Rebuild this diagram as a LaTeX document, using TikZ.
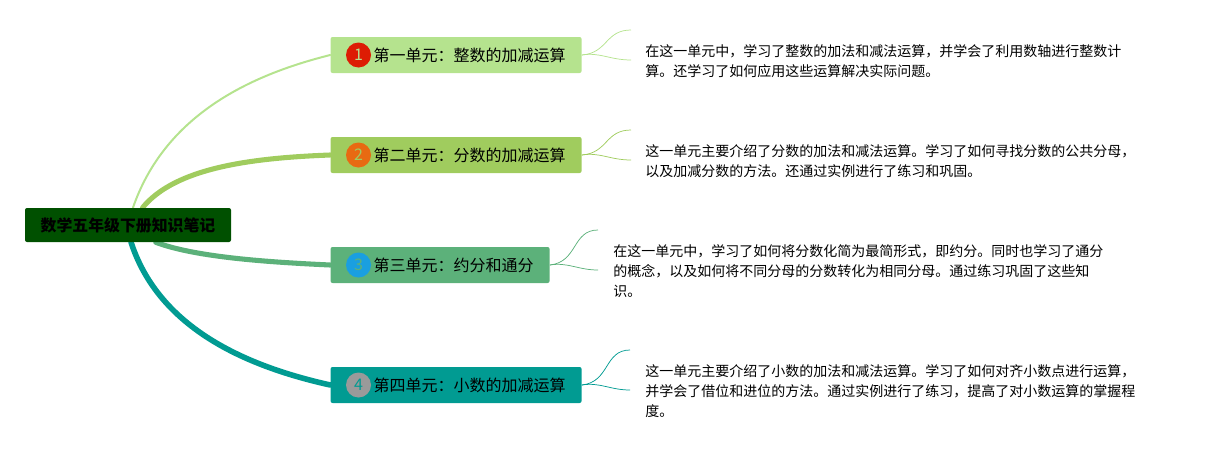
\documentclass[tikz,border=0pt]{standalone}
\usepackage{fontspec}
\usetikzlibrary{backgrounds}
\setmainfont{Noto Sans CJK SC}
\definecolor{rootgreen}{HTML}{005000}
\definecolor{unitA}{HTML}{B5E38E}
\definecolor{unitB}{HTML}{A0CC5E}
\definecolor{unitC}{HTML}{5CB17A}
\definecolor{unitD}{HTML}{019B92}
\definecolor{badgeA}{HTML}{DD1C04}
\definecolor{badgeB}{HTML}{E86A12}
\definecolor{badgeC}{HTML}{1A9FE0}
\definecolor{badgeD}{HTML}{9A9A9A}
\tikzset{
  rootbox/.style={fill=rootgreen,rounded corners=1.5pt,minimum width=154.5pt,minimum height=25.5pt,inner sep=0pt,font=\fontsize{11.9}{15}\selectfont\bfseries},
  unitbox/.style={anchor=west,rounded corners=1.5pt,minimum height=27pt,inner xsep=12pt,inner ysep=0pt,font=\fontsize{12}{15}\selectfont},
  badge/.style={circle,minimum size=18.75pt,inner sep=0pt,font=\fontsize{12}{15}\selectfont},
  notetext/.style={anchor=west,align=left,inner sep=0pt,font=\fontsize{10.5}{15}\selectfont},
  leaf/.style={line width=0.55pt},
  branch/.style={line cap=round}
}
\begin{document}
\begin{tikzpicture}[x=0.75pt,y=-0.75pt]
\useasboundingbox (0,0) rectangle (1205,450);

\node[rootbox] (root) at (128,225) {数学五年级下册知识笔记};

\node[unitbox,fill=unitA] (unit1) at (330.3,55) {\hspace*{20.25pt}第一单元：整数的加减运算};
\node[unitbox,fill=unitB] (unit2) at (330.3,155) {\hspace*{20.25pt}第二单元：分数的加减运算};
\node[unitbox,fill=unitC] (unit3) at (330.3,265) {\hspace*{20.25pt}第三单元：约分和通分};
\node[unitbox,fill=unitD] (unit4) at (330.3,385) {\hspace*{20.25pt}第四单元：小数的加减运算};

\node[badge,fill=badgeA,text=unitA] (badge1) at (358.5,55) {1};
\node[badge,fill=badgeB,text=unitB] (badge2) at (358.5,155) {2};
\node[badge,fill=badgeC,text=unitC] (badge3) at (358.5,265) {3};
\node[badge,fill=badgeD,text=unitD] (badge4) at (358.5,385) {4};

\begin{scope}[on background layer]
\draw[branch,unitA,line width=1.5pt] (root.74) .. controls (165,115) and (250,75) .. (unit1.west);
\draw[branch,unitB,line width=3.8pt] (root.50) .. controls (175,168) and (250,158) .. (unit2.west);
\draw[branch,unitC,line width=3.8pt] (root.-32) .. controls (195,257) and (265,262) .. (unit3.west);
\draw[branch,unitD,line width=4.2pt] (root.-80) .. controls (158,325) and (240,365) .. (unit4.west);
\end{scope}

\node[notetext] (note1) at (645,61) {在这一单元中，学习了整数的加法和减法运算，并学会了利用数轴进行整数计\\算。还学习了如何应用这些运算解决实际问题。};
\node[notetext] (note2) at (645,161) {这一单元主要介绍了分数的加法和减法运算。学习了如何寻找分数的公共分母，\\以及加减分数的方法。还通过实例进行了练习和巩固。};
\node[notetext] (note3) at (613,271) {在这一单元中，学习了如何将分数化简为最简形式，即约分。同时也学习了通分\\的概念，以及如何将不同分母的分数转化为相同分母。通过练习巩固了这些知\\识。};
\node[notetext] (note4) at (645,391) {这一单元主要介绍了小数的加法和减法运算。学习了如何对齐小数点进行运算，\\并学会了借位和进位的方法。通过实例进行了练习，提高了对小数运算的掌握程\\度。};

\coordinate (end1a) at (631,30);
\coordinate (end1b) at (631,60);
\coordinate (end2a) at (631,130);
\coordinate (end2b) at (631,160);
\coordinate (end3a) at (598,230);
\coordinate (end3b) at (598,270);
\coordinate (end4a) at (630,350);
\coordinate (end4b) at (630,390);

\draw[leaf,unitA] (unit1.east) .. controls (608,53) and (605,30) .. (end1a);
\draw[leaf,unitA] (unit1.east) .. controls (600,52) and (610,60) .. (end1b);
\draw[leaf,unitB] (unit2.east) .. controls (608,153) and (605,130) .. (end2a);
\draw[leaf,unitB] (unit2.east) .. controls (600,152) and (610,160) .. (end2b);
\draw[leaf,unitC] (unit3.east) .. controls (578,262) and (572,230) .. (end3a);
\draw[leaf,unitC] (unit3.east) .. controls (568,262) and (578,270) .. (end3b);
\draw[leaf,unitD] (unit4.east) .. controls (610,382) and (604,350) .. (end4a);
\draw[leaf,unitD] (unit4.east) .. controls (600,382) and (610,390) .. (end4b);
\end{tikzpicture}
\end{document}
